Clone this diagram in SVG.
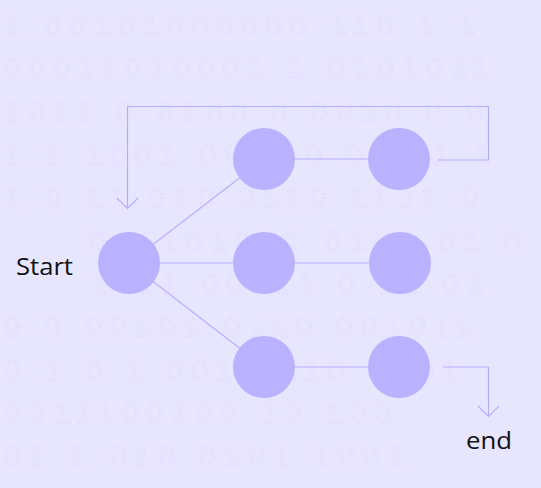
<svg xmlns="http://www.w3.org/2000/svg" width="541" height="488" viewBox="0 0 541 488">
<style>
.bg{fill:#E8E5FF}
.bits{font-family:"Liberation Sans",Arial,sans-serif;font-size:30px;letter-spacing:7.8px;fill:none;stroke:#CBC3FF;stroke-width:0.9;stroke-dasharray:0.8 2.6;opacity:0.55}
.node{fill:#BAB1FF}
.edge{fill:none;stroke:#B6ADFF;stroke-width:1.2}
.lbl{font-family:"Open Sans","Liberation Sans",sans-serif;font-size:23px;fill:#111111}
</style>
<rect class="bg" x="0" y="0" width="541" height="488"/>
<g id="background-bits" class="bits">
<text x="4" y="35">1 00101000000 110 1 1</text>
<text x="4" y="78"> 00011010001 1 0101011</text>
<text x="4" y="122">1011 0 0100 0 0010 0 0</text>
<text x="4" y="165">1 1 1001 00 1 0 011 1 1</text>
<text x="4" y="208">1 0 11 010 0110 1101 0</text>
<text x="90" y="251">001101001 0101 01 0</text>
<text x="90" y="294">1011 00011 0 11 01</text>
<text x="4" y="337">0 0 00101 0110 001011</text>
<text x="4" y="380">0 1 0 1 001 0110 0101</text>
<text x="4" y="423">0011100100 10 100</text>
<text x="4" y="466">01 1 010 0101 1001</text>
</g>
<g id="connectors" class="edge">
<line x1="129" y1="263" x2="264" y2="159"/>
<line x1="129" y1="263" x2="264" y2="263"/>
<line x1="129" y1="263" x2="264" y2="367"/>
<line x1="264" y1="159" x2="399" y2="159"/>
<line x1="264" y1="263" x2="399" y2="263"/>
<line x1="264" y1="367" x2="399" y2="367"/>
<polyline points="438,160 488.5,160 488.5,106.5 127.5,106.5 127.5,208"/>
<polyline points="117,198 127.5,208.5 138,198"/>
<polyline points="443,367 488.5,367 488.5,416.5"/>
<polyline points="478,406 488.5,416.5 499,406"/>
</g>
<g id="node-start"><circle class="node" cx="129" cy="263" r="31"/></g>
<g id="node-a1"><circle class="node" cx="264" cy="159" r="31"/></g>
<g id="node-a2"><circle class="node" cx="399" cy="159" r="31"/></g>
<g id="node-b1"><circle class="node" cx="264" cy="263" r="31"/></g>
<g id="node-b2"><circle class="node" cx="400" cy="263" r="31"/></g>
<g id="node-c1"><circle class="node" cx="264" cy="367" r="31"/></g>
<g id="node-c2"><circle class="node" cx="399" cy="367" r="31"/></g>
<g id="label-start"><text class="lbl" x="16" y="275" textLength="57" lengthAdjust="spacingAndGlyphs">Start</text></g>
<g id="label-end"><text class="lbl" x="466" y="449" textLength="46" lengthAdjust="spacingAndGlyphs">end</text></g>
</svg>
